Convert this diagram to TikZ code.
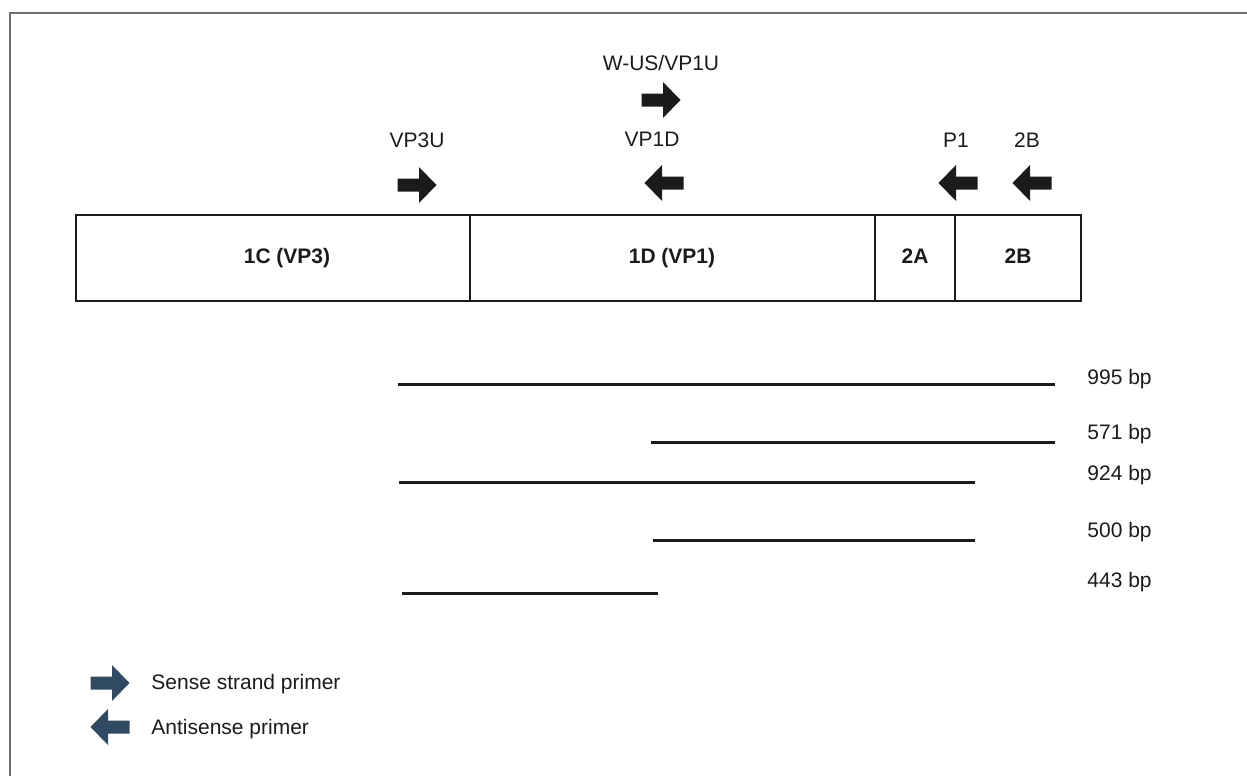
\documentclass[tikz,border=0pt]{standalone}
\usepackage{fontspec}
\setmainfont{Liberation Sans}
\usetikzlibrary{positioning}
\definecolor{ink}{HTML}{1B1B1B}
\definecolor{slate}{HTML}{2F4A62}
\definecolor{rule}{HTML}{707070}
\tikzset{
  primer/.pic={\fill (-19.5,-6.5) -- (2,-6.5) -- (2,-18) -- (19.5,0)
                     -- (2,18) -- (2,6.5) -- (-19.5,6.5) -- cycle;},
  lbl/.style={font=\fontsize{10.5}{12}\selectfont,inner sep=0pt,text=ink},
  gene/.style={font=\bfseries\fontsize{10.5}{12}\selectfont,inner sep=0pt,text=ink,
               text height=7.6pt,text depth=2pt},
  band/.style={draw=ink,line width=1.5pt},
}

\begin{document}
\begin{tikzpicture}[x=0.5pt,y=-0.5pt]
    \useasboundingbox (0,0) rectangle (1247,776);
    % open frame
    \draw[rule,line width=0.6pt] (10,776) -- (10,13) -- (1247,13);
    % genome segments
    \draw[ink,line width=0.7pt] (76,215) rectangle (1081,301);
    \foreach \x in {470,875,955}
      \draw[ink,line width=0.7pt] (\x,215) -- (\x,301);
    \foreach \n/\x/\t in {vpc/287/1C (VP3),vpa/672/1D (VP1),twoa/915/2A,twob/1018/2B}
      \node[gene] (\n) at (\x,258) {\t};
    % primers
    \foreach \n/\x/\y/\t in {vpu/417/140/VP3U,wus/661/63/{W-US/VP1U},vpd/652/139/VP1D,pone/956/140/P1,prb/1027/140/2B}
      \node[lbl] (\n) at (\x,\y) {\t};
    \pic[ink] at (417,185) {primer};
    \pic[ink] at (661,100) {primer};
    \foreach \x in {664,958,1032}
      \pic[ink,xscale=-1] at (\x,183) {primer};
    % products
    \foreach \a/\b/\y/\ly/\t in {398/1055/384/379/995,651/1055/442/434/571,399/975/482/475/924,
                                 653/975/540/532/500,402/658/593/582/443}{
      \draw[band] (\a,\y) -- (\b,\y);
      \node[lbl,anchor=west] (bp\t) at (1087,\ly) {\t\ bp};}
    % legend
    \pic[slate] at (110,683) {primer};
    \pic[slate,xscale=-1] at (110,727) {primer};
    \node[lbl,anchor=west] (sense) at (151,684) {Sense strand primer};
    \node[lbl,anchor=west] (anti) at (151,729) {Antisense primer};
\end{tikzpicture}
\end{document}
